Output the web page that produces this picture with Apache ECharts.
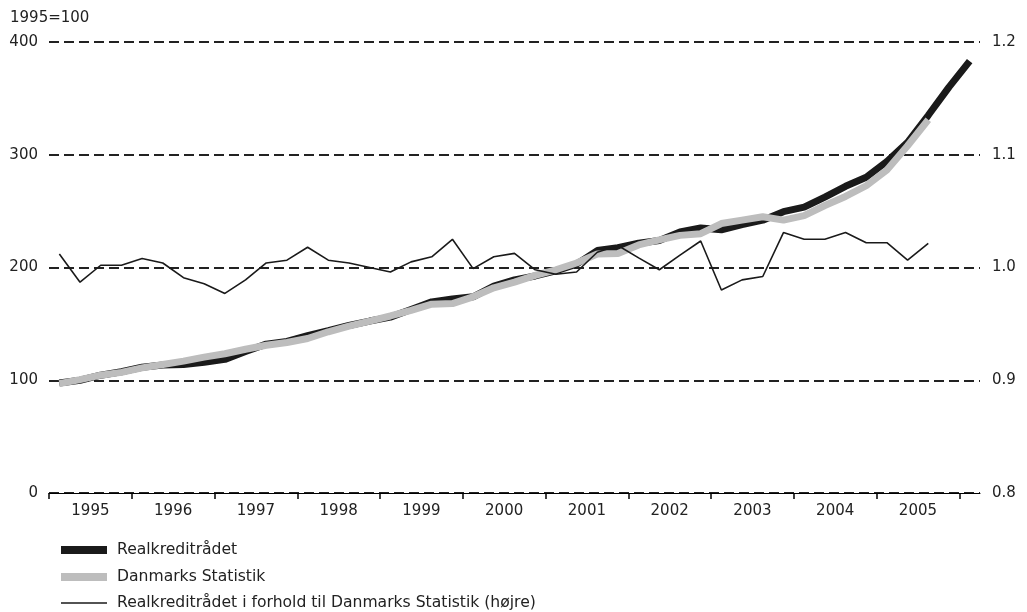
<!DOCTYPE html>
<html>
<head>
<meta charset="utf-8">
<script src="https://cdn.jsdelivr.net/npm/echarts@6/dist/echarts.min.js"></script>
<style>
  html, body { margin: 0; padding: 0; background: #fff; }
  #chart { width: 1027px; height: 612px; }
</style>
</head>
<body>
<div id="chart"></div>
<script>
// kvartaler 1995K1 - 2006K1
const quarters = [
  '1995K1', '1995K2', '1995K3', '1995K4', '1996K1', '1996K2', '1996K3', '1996K4',
  '1997K1', '1997K2', '1997K3', '1997K4', '1998K1', '1998K2', '1998K3', '1998K4',
  '1999K1', '1999K2', '1999K3', '1999K4', '2000K1', '2000K2', '2000K3', '2000K4',
  '2001K1', '2001K2', '2001K3', '2001K4', '2002K1', '2002K2', '2002K3', '2002K4',
  '2003K1', '2003K2', '2003K3', '2003K4', '2004K1', '2004K2', '2004K3', '2004K4',
  '2005K1', '2005K2', '2005K3', '2005K4', '2006K1'
]
const years = ['1995', '1996', '1997', '1998', '1999', '2000', '2001', '2002', '2003', '2004', '2005']

const realkredit = [
  97.5, 100, 104.5, 107.5, 111.5, 113.5, 114, 116, 118.5, 125.5, 132, 134.5,
  139.5, 144, 148.6, 152.5, 156, 162.8, 169.5, 172, 174, 183.5, 189, 192.5,
  197, 203, 215, 217.5, 221.5, 224, 231.5, 235, 233.5, 238, 242, 249.5,
  253.5, 262.5, 272, 280, 294, 311, 335, 360, 383
]
const danmarksStatistik = [
  97, 100.5, 104.5, 107, 111, 114, 117, 120.5, 123.5, 127.5, 131, 133.5,
  137, 143, 148, 152.5, 157, 162, 167.5, 168, 174, 182, 187, 193,
  198, 204, 212, 212.5, 220, 224.5, 228.5, 230, 239, 242, 245, 242,
  246, 255, 263, 272.5, 286.5, 308, 331
]
const forhold = [
  1.012, 0.987, 1.002, 1.002, 1.008, 1.004, 0.991, 0.9855, 0.977, 0.989, 1.004, 1.0065,
  1.018, 1.0065, 1.004, 1.0, 0.996, 1.005, 1.0095, 1.025, 0.999, 1.0095, 1.0125, 0.998,
  0.994, 0.996, 1.0135, 1.0195, 1.0085, 0.998, 1.011, 1.0235, 0.98, 0.989, 0.992, 1.031,
  1.025, 1.025, 1.031, 1.022, 1.022, 1.0065, 1.0215
]

const FONT = 'DejaVu Sans'
const TXT = '#222'

// ticks at year boundaries, labels centred on each year
const yearTicks = years.map((y, k) => k * 4).concat([years.length * 4])
const yearCentres = years.map((y, k) => k * 4 + 2)

const toPoints = arr => arr.map((v, i) => [i + 0.5, v])

const legendText = { fontSize: 15.6, color: TXT, fontFamily: FONT, padding: [0, 0, 0, 5] }
const legendBase = {
  left: 61, itemWidth: 46, itemGap: 0, padding: 0,
  itemStyle: { borderWidth: 0 },
  textStyle: legendText
}

const chart = echarts.init(document.getElementById('chart'))
chart.setOption({
  animation: false,
  textStyle: { fontFamily: FONT, color: TXT },
  title: {
    text: '1995=100', left: 5, top: 6,
    textStyle: { fontFamily: FONT, fontSize: 15, fontWeight: 'normal', color: TXT }
  },
  grid: { left: 49, right: 47, top: 42, bottom: 119 },
  xAxis: {
    type: 'value',
    min: 0,
    max: quarters.length,
    axisLine: { show: true, onZero: false, lineStyle: { color: '#000', width: 1 } },
    axisTick: { show: true, customValues: yearTicks, length: 6, lineStyle: { color: '#000', width: 1.5 } },
    axisLabel: {
      customValues: yearCentres,
      formatter: v => years[(v - 2) / 4],
      margin: 11, fontSize: 15, color: TXT, fontFamily: FONT
    },
    splitLine: { show: false }
  },
  yAxis: [
    {
      type: 'value', min: 0, max: 400, interval: 100, position: 'left',
      axisLine: { show: false }, axisTick: { show: false },
      axisLabel: { margin: 11, fontSize: 15, color: TXT, fontFamily: FONT },
      splitLine: { show: true, lineStyle: { color: '#222', width: 2, type: [10, 5] } }
    },
    {
      type: 'value', min: 0.8, max: 1.2, interval: 0.1, position: 'right',
      axisLine: { show: false }, axisTick: { show: false },
      axisLabel: { margin: 12, fontSize: 15, color: TXT, fontFamily: FONT, formatter: v => v.toFixed(1) },
      splitLine: { show: false }
    }
  ],
  legend: [
    Object.assign({}, legendBase, {
      data: [{ name: 'Realkreditrådet', icon: 'rect' }],
      top: 542, itemHeight: 8, lineStyle: { width: 8, cap: 'butt' }
    }),
    Object.assign({}, legendBase, {
      data: [{ name: 'Danmarks Statistik', icon: 'rect' }],
      top: 569, itemHeight: 8, lineStyle: { width: 8, cap: 'butt' }
    }),
    Object.assign({}, legendBase, {
      data: [{ name: 'Realkreditrådet i forhold til Danmarks Statistik (højre)', icon: 'rect' }],
      top: 595, itemHeight: 1.5, lineStyle: { width: 1.5, cap: 'butt' }
    })
  ],
  series: [
    {
      name: 'Realkreditrådet', type: 'line', yAxisIndex: 0,
      data: toPoints(realkredit), symbol: 'none',
      lineStyle: { color: '#1a1a1a', width: 7 }, itemStyle: { color: '#1a1a1a' }
    },
    {
      name: 'Danmarks Statistik', type: 'line', yAxisIndex: 0,
      data: toPoints(danmarksStatistik), symbol: 'none',
      lineStyle: { color: '#bdbdbd', width: 7 }, itemStyle: { color: '#bdbdbd' }
    },
    {
      name: 'Realkreditrådet i forhold til Danmarks Statistik (højre)', type: 'line', yAxisIndex: 1,
      data: toPoints(forhold), symbol: 'none',
      lineStyle: { color: '#1a1a1a', width: 1.6 }, itemStyle: { color: '#1a1a1a' }
    }
  ]
})
</script>
</body>
</html>
